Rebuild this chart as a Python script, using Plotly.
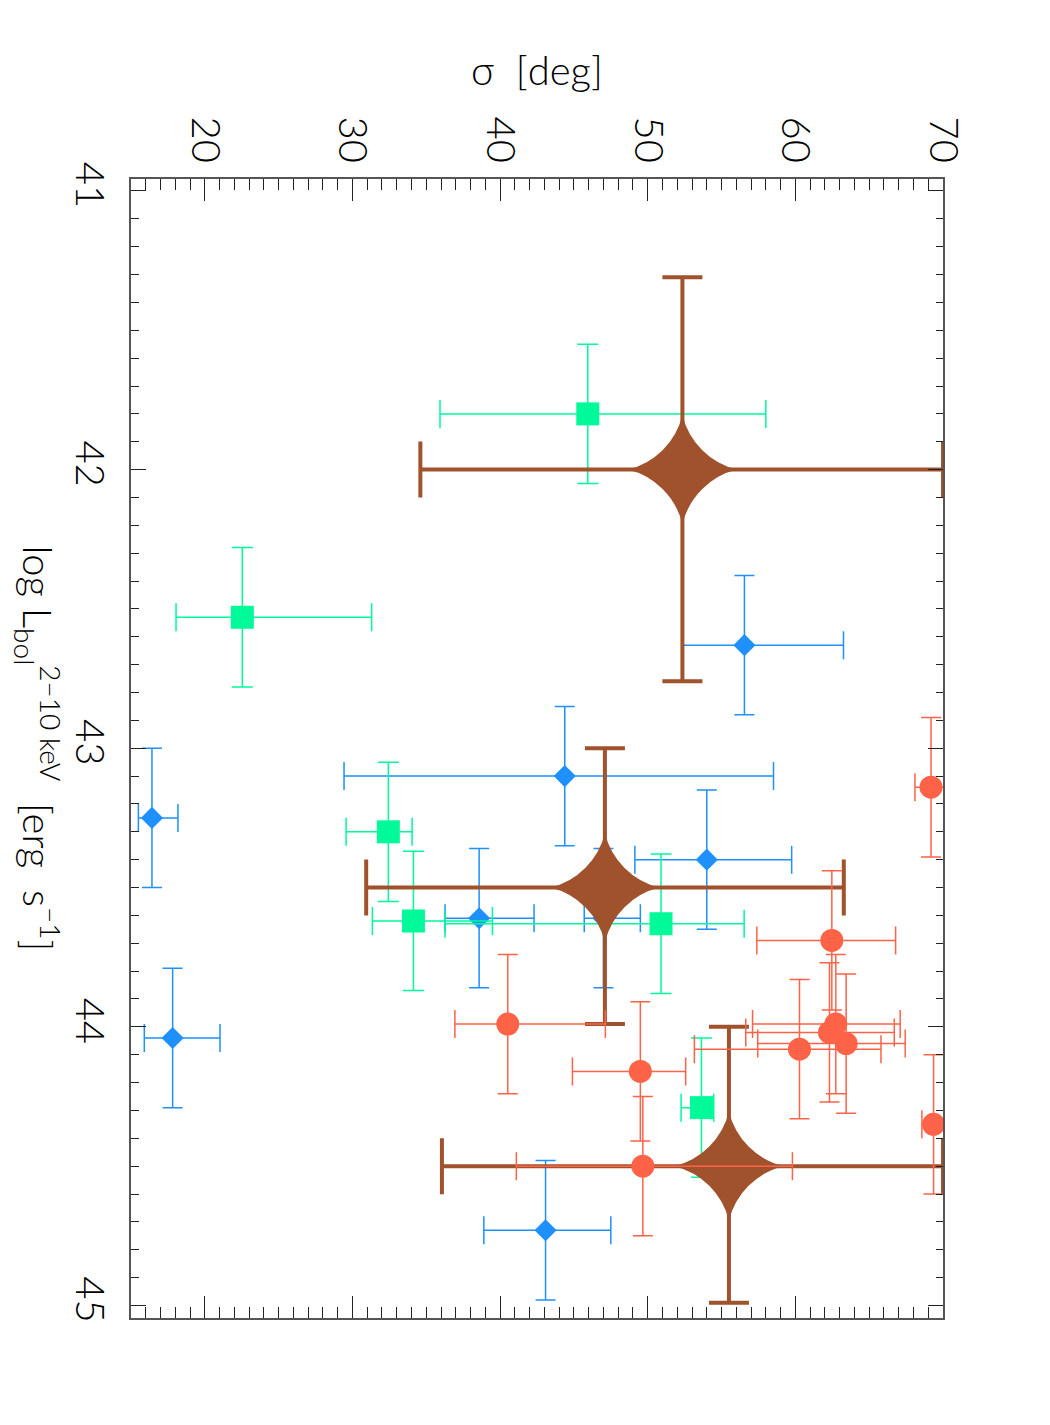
import plotly.graph_objects as go

# ---------------- data ----------------
# blue diamonds
blue_sigma = [16.42, 17.82, 56.55, 44.38, 38.58, 47.0, 54.0, 43.08]
blue_sigma_minus = [0.92, 1.92, 4.18, 14.95, 2.31, 1.3, 4.87, 4.18]
blue_sigma_plus = [1.76, 3.21, 6.71, 14.14, 3.72, 2.5, 5.75, 4.42]
blue_logL = [43.25, 44.04, 42.63, 43.10, 43.61, 43.61, 43.40, 44.73]
blue_logL_err = [0.25, 0.25, 0.25, 0.25, 0.25, 0.25, 0.25, 0.25]

# green squares
green_sigma = [45.94, 22.54, 32.43, 34.13, 50.9, 53.64]
green_sigma_minus = [10.01, 4.49, 2.86, 2.78, 14.63, 1.38]
green_sigma_plus = [12.06, 8.76, 1.61, 5.35, 5.63, 0.83]
green_logL = [41.80, 42.53, 43.30, 43.62, 43.63, 44.29]
green_logL_err = [0.25, 0.25, 0.25, 0.25, 0.25, 0.25]

# red circles
red_sigma = [69.19, 62.47, 40.52, 62.74, 62.31, 63.44, 60.28, 49.5, 69.36, 49.67]
red_sigma_minus = [1.09, 5.08, 3.58, 5.64, 5.67, 5.99, 7.12, 4.6, 0.79, 8.57]
red_sigma_plus = [1.1, 4.32, 6.61, 4.36, 4.39, 4.0, 5.52, 3.07, 0.8, 10.13]
red_logL = [43.14, 43.69, 43.99, 43.99, 44.02, 44.06, 44.08, 44.16, 44.35, 44.50]
red_logL_err = [0.25, 0.25, 0.25, 0.25, 0.25, 0.25, 0.25, 0.25, 0.25, 0.25]

# brown stars (binned averages)
brown_sigma = [52.35, 47.1, 55.5]
brown_sigma_minus = [17.75, 16.17, 19.44]
brown_sigma_plus = [17.65, 16.18, 14.5]
brown_logL = [42.0, 43.5, 44.5]
brown_logL_minus = [0.69, 0.5, 0.5]
brown_logL_plus = [0.76, 0.49, 0.49]

sigma_ticks = [20, 30, 40, 50, 60, 70]
logL_ticks = [41, 42, 43, 44, 45]

FONT = "Lato"
BLUE = "#1E90FF"
GREEN = "#00FA9A"
RED = "#FF6347"
BROWN = "#A0522D"

fig = go.Figure()


def add_series(sx, sm, sp, ly, lm, lp, color, symbol, size, lw, capx, capy):
    fig.add_trace(go.Scatter(
        x=sx, y=ly, mode="markers",
        marker=dict(symbol=symbol, size=size, color=color, line=dict(width=0)),
        error_x=dict(type="data", symmetric=False, array=sp, arrayminus=sm,
                     color=color, thickness=lw, width=capx),
        error_y=dict(type="data", symmetric=False, array=lp, arrayminus=lm,
                     color=color, thickness=lw, width=capy),
        showlegend=False, hoverinfo="skip",
    ))


add_series(blue_sigma, blue_sigma_minus, blue_sigma_plus,
           blue_logL, blue_logL_err, blue_logL_err,
           BLUE, "diamond", 17, 1.5, 14, 10)
add_series(green_sigma, green_sigma_minus, green_sigma_plus,
           green_logL, green_logL_err, green_logL_err,
           GREEN, "square", 23, 1.5, 14, 10.5)
add_series(brown_sigma, brown_sigma_minus, brown_sigma_plus,
           brown_logL, brown_logL_minus, brown_logL_plus,
           BROWN, "star-diamond", 78, 4, 28, 20)
add_series(red_sigma, red_sigma_minus, red_sigma_plus,
           red_logL, red_logL_err, red_logL_err,
           RED, "circle", 23, 1.5, 14, 10)

font = dict(family=FONT, size=40, color="#000000", weight=300)

fig.update_layout(
    width=1050, height=1425,
    margin=dict(l=131, r=107, t=179, b=107),
    paper_bgcolor="white", plot_bgcolor="white",
    font=font,
    xaxis=dict(
        side="top", range=[15, 70], tickmode="array", tickvals=sigma_ticks,
        ticktext=[str(v) for v in sigma_ticks], tickangle=90,
        ticks="inside", ticklen=22, tickwidth=1.2, tickcolor="#222",
        minor=dict(dtick=1, ticks="inside", ticklen=11, tickwidth=1.2, tickcolor="#222"),
        showline=True, linecolor="#555", linewidth=2, mirror="ticks",
        showgrid=False, zeroline=False, tickfont=font, ticklabelstandoff=0,
    ),
    yaxis=dict(
        range=[45.045, 40.957], tickmode="array", tickvals=logL_ticks,
        ticktext=[str(v) for v in logL_ticks], tickangle=90,
        ticks="inside", ticklen=15, tickwidth=1.2, tickcolor="#222",
        minor=dict(dtick=0.1, tick0=41, ticks="inside", ticklen=7.5, tickwidth=1.2, tickcolor="#222"),
        showline=True, linecolor="#555", linewidth=2, mirror="ticks",
        showgrid=False, zeroline=False, tickfont=font, ticklabelstandoff=5,
    ),
    annotations=[
        dict(text="σ  [deg]", xref="paper", yref="paper", x=0.5, y=1.0957,
             xanchor="center", yanchor="middle", showarrow=False, font=font),
        dict(text="log L<sub>bol</sub><sup>2−10 keV</sup>  [erg  s<sup>−1</sup>]",
             xref="paper", yref="paper", x=-0.1145, y=0.5, textangle=90,
             xanchor="center", yanchor="middle", showarrow=False, font=font),
    ],
)

fig.write_html("out.html")
